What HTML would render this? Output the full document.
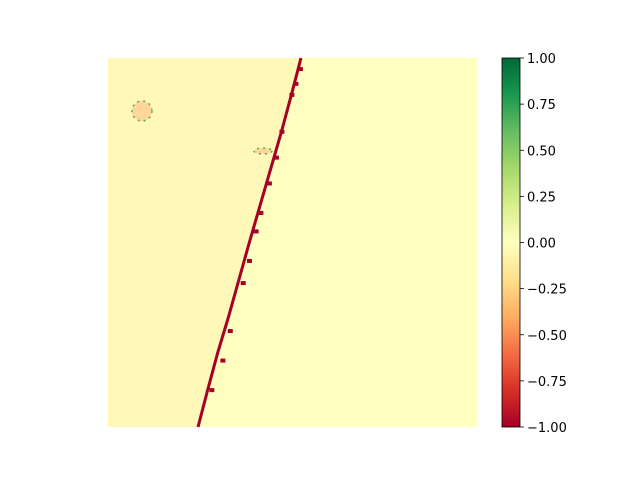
<!DOCTYPE html>
<html><head><meta charset="utf-8"><style>
body{margin:0;background:#fff;font-family:"Liberation Sans","DejaVu Sans",sans-serif}
svg text{font-family:"DejaVu Sans","Liberation Sans",sans-serif;font-size:13px}
</style></head><body>
<svg id="c" width="640" height="480" xmlns="http://www.w3.org/2000/svg">
<defs>
<linearGradient id="g" x1="0" y1="1" x2="0" y2="0">
<stop offset="0" stop-color="#a50026"/><stop offset="0.1" stop-color="#d73027"/><stop offset="0.2" stop-color="#f46d43"/><stop offset="0.3" stop-color="#fdae61"/><stop offset="0.4" stop-color="#fee08b"/><stop offset="0.5" stop-color="#ffffbf"/><stop offset="0.6" stop-color="#d9ef8b"/><stop offset="0.7" stop-color="#a6d96a"/><stop offset="0.8" stop-color="#66bd63"/><stop offset="0.9" stop-color="#1a9850"/><stop offset="1" stop-color="#006837"/>
</linearGradient>
</defs>
<rect x="108" y="58" width="369" height="369" fill="#ffffc0"/>
<g id="marks"></g>
<rect x="502" y="58" width="18" height="369" fill="url(#g)" stroke="#000" stroke-width="0.8"/>
<g id="ticks"></g>
</svg>
<script>
const tickValues=[1,0.75,0.5,0.25,0,-0.25,-0.5,-0.75,-1];
const tickLabels=["1.00","0.75","0.50","0.25","0.00","\u22120.25","\u22120.50","\u22120.75","\u22121.00"];
const lineRows=[0,0.1,0.2,0.3,0.4,0.5,0.6,0.7,0.8,0.9,1];
const lineCols=[0.523,0.497,0.47,0.441,0.412,0.383,0.355,0.327,0.297,0.27,0.244];
const blobRows=[0.03,0.07,0.1,0.2,0.27,0.34,0.42,0.47,0.55,0.61,0.74,0.82,0.9];
const blobCols=[0.52,0.508,0.497,0.47,0.455,0.436,0.413,0.4,0.382,0.365,0.33,0.31,0.28];
const X0=108,Y0=58,W=369,H=369;
const px=f=>X0+f*W, py=f=>Y0+f*H;
const cbY=v=>58+(1-v)/2*369;
const ns="http://www.w3.org/2000/svg";
const m=document.getElementById('marks');
let pts=[[px(0),py(0)]];
lineRows.forEach((r,i)=>pts.push([px(lineCols[i]),py(r)]));
pts.push([px(0),py(1)]);
const poly=document.createElementNS(ns,'polygon');
poly.setAttribute('points',pts.map(p=>p.join(',')).join(' '));
poly.setAttribute('fill','#fff8b8');


m.appendChild(poly);
const pl=document.createElementNS(ns,'polyline');
pl.setAttribute('points',lineRows.map((r,i)=>px(lineCols[i])+','+py(r)).join(' '));
pl.setAttribute('fill','none');pl.setAttribute('stroke','#a50026');pl.setAttribute('stroke-width','3');


m.appendChild(pl);
blobRows.forEach((r,i)=>{const e=document.createElementNS(ns,'rect');
e.setAttribute('x',px(blobCols[i])-2);e.setAttribute('y',py(r)-2);e.setAttribute('width',5);e.setAttribute('height',4);e.setAttribute('fill','#a50026');


m.appendChild(e);});
const patch=(cx,cy,rx,ry,name)=>{const e=document.createElementNS(ns,'ellipse');
e.setAttribute('cx',cx);e.setAttribute('cy',cy);e.setAttribute('rx',rx);e.setAttribute('ry',ry);e.setAttribute('fill','#fdd79a');e.setAttribute('stroke','#4caf50');e.setAttribute('stroke-width','1.5');e.setAttribute('stroke-dasharray','2 4');


m.appendChild(e);};
patch(142,111,10,10,'noise-patch-1');
patch(263,151,9,3,'noise-patch-2');
const t=document.getElementById('ticks');
tickValues.forEach((v,i)=>{const y=cbY(v);
const l=document.createElementNS(ns,'line');
l.setAttribute('x1',520);l.setAttribute('x2',524);l.setAttribute('y1',y);l.setAttribute('y2',y);l.setAttribute('stroke','#000');l.setAttribute('stroke-width','0.8');


t.appendChild(l);
const tx=document.createElementNS(ns,'text');
tx.setAttribute('x',527);tx.setAttribute('y',y+5);tx.textContent=tickLabels[i];


t.appendChild(tx);});
</script>
</body></html>
